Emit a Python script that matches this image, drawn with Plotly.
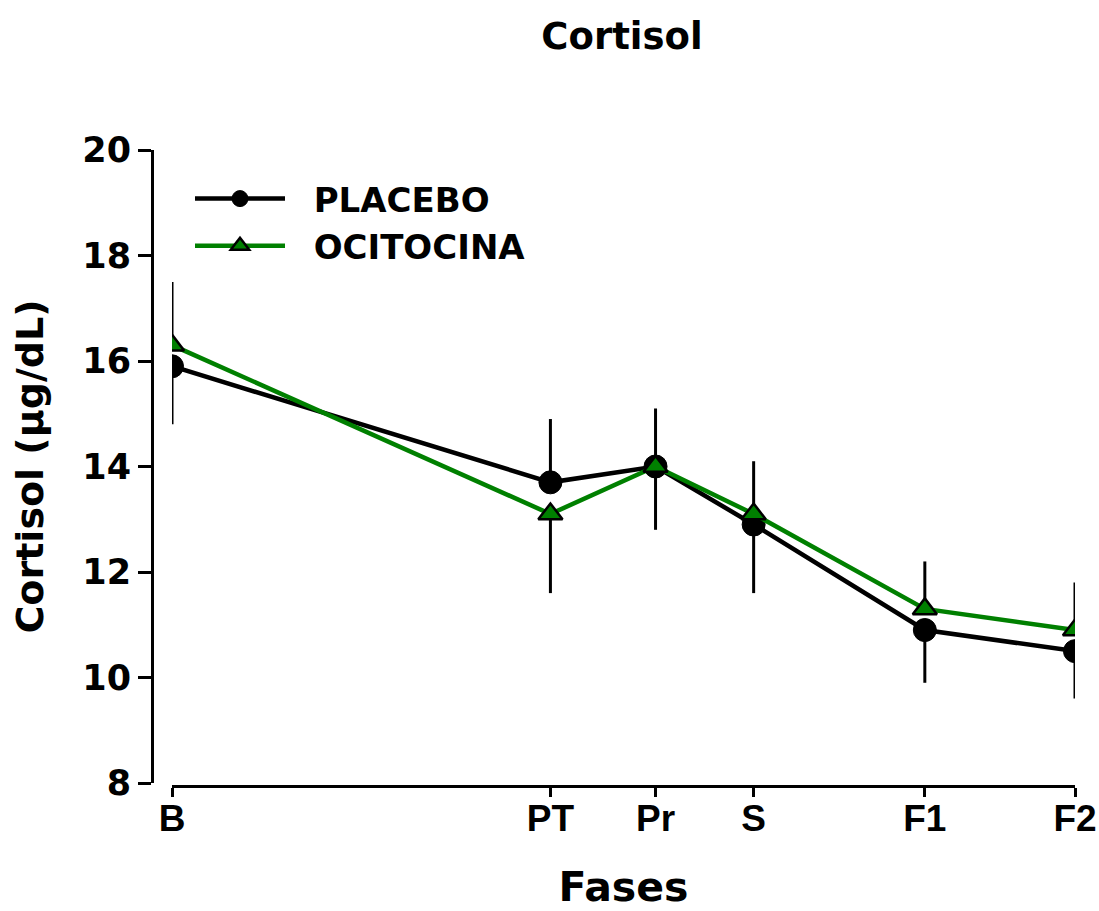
import plotly.graph_objects as go

# ---- data ----
phases = ["B", "PT", "Pr", "S", "F1", "F2"]
phase_pos = [0, 37.8, 48.3, 58.1, 75.2, 90.2]  # relative timing of the phases

placebo = [15.9, 13.7, 14.0, 12.9, 10.9, 10.5]
placebo_err_plus = [0, 1.2, 1.1, 0, 0, 0]
placebo_err_minus = [1.1, 0, 0, 1.3, 1.0, 0.9]

ocitocina = [16.3, 13.1, 14.0, 13.1, 11.3, 10.9]
ocitocina_err_plus = [1.2, 0, 0, 1.0, 0.9, 0.9]
ocitocina_err_minus = [0, 1.5, 1.2, 0, 0, 0]

y_ticks = [8, 10, 12, 14, 16, 18, 20]

FONT = "DejaVu Sans, Arial, sans-serif"
NARROW = "Liberation Sans, Arial, sans-serif"
GREEN = "#008000"
NB = "\u00a0\u00a0"

fig = go.Figure()
fig.add_trace(go.Scatter(
    x=phase_pos, y=placebo, name=NB + "PLACEBO", mode="lines+markers",
    line=dict(color="black", width=4.5),
    marker=dict(symbol="circle", size=23, color="black", line=dict(color="black", width=1)),
    error_y=dict(type="data", symmetric=False, array=placebo_err_plus,
                 arrayminus=placebo_err_minus, color="black", thickness=3, width=0),
))
fig.add_trace(go.Scatter(
    x=phase_pos, y=ocitocina, name=NB + "OCITOCINA", mode="lines+markers",
    line=dict(color=GREEN, width=4.5),
    marker=dict(symbol="triangle-up", size=21, color=GREEN, line=dict(color="black", width=2.5)),
    error_y=dict(type="data", symmetric=False, array=ocitocina_err_plus,
                 arrayminus=ocitocina_err_minus, color="black", thickness=3, width=0),
))

W, H = 1099, 911
ml, mr, mt, mb = 152, 24, 150, 125
pw = W - ml - mr
ph = H - mt - mb

fig.update_layout(
    width=W, height=H,
    margin=dict(l=ml, r=mr, t=mt, b=mb, pad=0),
    paper_bgcolor="white", plot_bgcolor="white",
    font=dict(family=FONT, color="black", size=34, weight="bold"),
    title=dict(text="Cortisol", x=(622 - ml) / pw, xref="paper", xanchor="center",
               y=1 - 36 / H, yref="container", yanchor="middle",
               font=dict(size=37, family=FONT, weight="bold")),
    showlegend=True,
    legend=dict(x=(190 - ml) / pw, y=1 - (170 - mt) / ph, xanchor="left", yanchor="top",
                bgcolor="rgba(0,0,0,0)", font=dict(size=34, family=FONT, weight="bold"),
                itemwidth=90, tracegroupgap=0),
    xaxis=dict(
        domain=[20 / pw, 1], range=[phase_pos[0], phase_pos[-1]],
        anchor="free", position=0,
        tickmode="array", tickvals=phase_pos, ticktext=phases,
        ticks="outside", ticklen=9, tickwidth=3, tickcolor="black",
        showline=True, linewidth=3, linecolor="black",
        showgrid=False, zeroline=False,
        ticklabeloverflow="allow", ticklabelstandoff=-10,
        tickfont=dict(size=37, family=NARROW, weight="bold"),
        title=dict(text="Fases", standoff=46, font=dict(size=41, family=FONT, weight="bold")),
        automargin=False,
    ),
    yaxis=dict(
        domain=[3 / ph, 1], range=[8, 20],
        anchor="free", position=0,
        tickmode="array", tickvals=y_ticks,
        ticks="outside", ticklen=13, tickwidth=3, tickcolor="black",
        showline=True, linewidth=3, linecolor="black",
        showgrid=False, zeroline=False,
        tickfont=dict(size=35, family=FONT, weight="bold"),
        title=dict(text="Cortisol (µg/dL)", standoff=25, font=dict(size=38, family=FONT, weight="bold")),
        automargin=False,
    ),
)

fig.write_html("out.html")
